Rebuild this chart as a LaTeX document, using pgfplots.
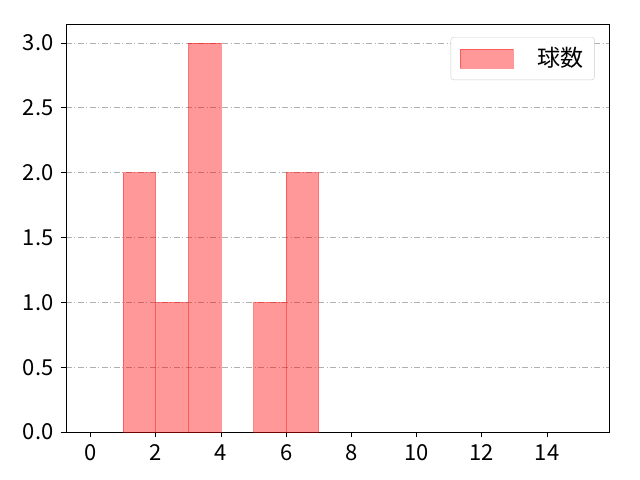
\documentclass[border=0pt]{standalone}
\usepackage{fontspec}
\setmainfont{Noto Sans CJK JP}
\usepackage{pgfplots}
\pgfplotsset{compat=1.18}

\begin{document}
\begin{tikzpicture}
\fontsize{22bp}{26bp}\selectfont
\begin{axis}[
  name=ax,
  scale only axis,
  width=543bp, height=408bp,
  xmin=-0.75, xmax=15.9,
  ymin=0, ymax=3.147,
  xtick={0,2,...,14},
  ytick={0,0.5,...,3},
  yticklabel style={/pgf/number format/.cd,fixed,fixed zerofill,precision=1},
  /pgf/number format/assume math mode=true,
  tick label style={font=\fontsize{22bp}{26bp}\selectfont},
  tick align=outside,
  tick pos=left,
  major tick length=5bp,
  every tick/.style={black, line width=0.8bp},
  axis line style={line width=0.8bp},
  ymajorgrids,
  grid style={dash pattern=on 6bp off 2.5bp on 1bp off 2.5bp, color=black!31, line width=0.8bp},
  legend style={at={(0.974,0.968)}, anchor=north east, draw=black!20, rounded corners=3bp,
    font=\fontsize{23bp}{26bp}\selectfont, inner xsep=9bp, inner ysep=8bp,
    cells={anchor=west}},
  legend cell align=left,
  legend image code/.code={\draw[#1, sharp corners] (0bp,-9.5bp) rectangle (53bp,9.5bp);},
]
\addplot[ybar interval, fill=red, fill opacity=0.4, draw=red, draw opacity=0.4, line width=0.8bp]
  coordinates {(1,2) (2,1) (3,3) (4,3)};
\addlegendentry{\hspace{22bp}球数\hspace{9bp}}
\addplot[ybar interval, fill=red, fill opacity=0.4, draw=red, draw opacity=0.4, line width=0.8bp, forget plot]
  coordinates {(5,1) (6,2) (7,2)};
\end{axis}
\path (ax.south west) ++(-66bp,-48bp) rectangle ++(640bp,480bp);
\end{tikzpicture}
\end{document}
